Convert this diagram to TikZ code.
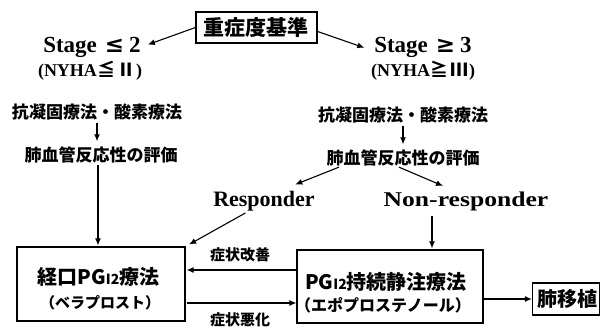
\documentclass[tikz,border=0pt]{standalone}
\usepackage{fontspec}
\setmainfont{Liberation Serif}
\newfontfamily\cjk{Noto Sans CJK JP}
\newfontfamily\dvs{DejaVu Serif}
\usetikzlibrary{arrows.meta}
\newcommand{\pgitwo}{PG{\fontsize{14}{14}\selectfont I2}}
\begin{document}
\begin{tikzpicture}[x=1pt,y=-1pt,
  line width=1.1pt,
  arr/.style={-{Latex[length=7pt,width=6pt]}},
  jbox/.style={draw, line width=1.2pt, inner sep=0pt},
  jt/.style={inner sep=0pt, font=\cjk\bfseries\fontsize{#1}{#1}\selectfont},
  et/.style={inner sep=0pt, font=\bfseries\fontsize{#1}{#1}\selectfont},
]
\useasboundingbox (0,0) rectangle (601,329);

% boxes
\node[jbox, minimum width=121pt, minimum height=31pt] (top) at (256.5,27.5) {};
\node[jt=21] (toptext) at (256,28) {重症度基準};
\node[jbox, minimum width=168pt, minimum height=74pt] (leftbox) at (101,284) {};
\node[jbox, minimum width=186pt, minimum height=73pt] (rightbox) at (390,286.5) {};
\node[jbox, minimum width=67pt, minimum height=32pt] (lung) at (566,299) {};
\node[jt=20] (lungtext) at (567,299) {肺移植};

% stage texts
\node[et=23] (stage2) at (92,47) {Stage\hspace{8pt}{\dvs\bfseries ≤}\hspace{5pt}2};
\node[et=18] (nyha2) at (90,71) {(NYHA{\cjk\bfseries ≦\,Ⅱ})};
\node[et=23] (stage3) at (423,47) {Stage\hspace{8pt}{\dvs\bfseries ≥}\hspace{5pt}3};
\node[et=18] (nyha3) at (423,71) {(NYHA{\cjk\bfseries ≧\,Ⅲ})};

% left column
\node[jt=17] (L1) at (97,112) {抗凝固療法・酸素療法};
\node[jt=17] (L2) at (101,155) {肺血管反応性の評価};
% right column
\node[jt=17] (R1) at (403,115) {抗凝固療法・酸素療法};
\node[jt=17] (R2) at (403,158) {肺血管反応性の評価};

\node[et=22] (resp) at (264,201) {Responder};
\node[et=21] (nonresp) at (466,201) {\scalebox{1.22}[1]{Non-responder}};

% box texts
\node[jt=20] (lt1) at (98.5,277) {経口\pgitwo 療法};
\node[jt=15] (lt2) at (100,303) {（ベラプロスト）};
\node[jt=20] (rt1) at (386,282) {\pgitwo 持続静注療法};
\node[jt=16] (rt2) at (383,305) {（エポプロステノール）};

\node[jt=15] (imp) at (240,255) {症状改善};
\node[jt=15] (wor) at (240,320) {症状悪化};

% connectors
\draw[arr, shorten >=7pt] (top.west) -- (stage2.east);
\draw[arr, shorten >=10pt] ([yshift=-4pt]top.east) -- ([yshift=-4pt]stage3.west);
\draw[arr, shorten <=2pt, shorten >=5pt] (L1.south) -- (L1.south |- L2.north);
\draw[arr, shorten <=2pt, shorten >=5pt] (R1.south) -- (R1.south |- R2.north);
\draw[arr, shorten <=1pt, shorten >=1pt] ([xshift=-3pt]L2.south) -- ([xshift=-3pt]L2.south |- leftbox.north);
\draw[arr, shorten <=1pt] ([xshift=-63pt]R2.south) -- ([xshift=-20pt,yshift=6pt]resp.north east);
\draw[arr, shorten <=1pt] ([xshift=-5pt]R2.south) -- ([xshift=-23pt,yshift=5pt]nonresp.north);
\draw[arr, shorten <=5pt, shorten >=1pt] ([xshift=-34pt]nonresp.south) -- ([xshift=-34pt]nonresp.south |- rightbox.north);
\draw[arr, shorten <=3pt, shorten >=4pt] ([xshift=-16pt]resp.south) -- (leftbox.north east);
\draw[arr, shorten >=1pt] ([yshift=16.5pt]rightbox.west) -- ([yshift=16.5pt]rightbox.west -| leftbox.east);
\draw[arr, shorten <=1pt] ([yshift=-16.5pt]rightbox.west -| leftbox.east) -- ([yshift=-16.5pt]rightbox.west);
\draw[arr] (lung.west -| rightbox.east) -- (lung.west);
\end{tikzpicture}
\end{document}
